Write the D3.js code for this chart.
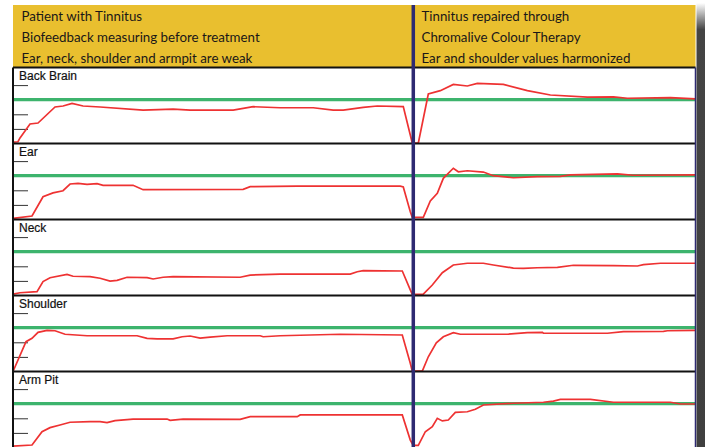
<!DOCTYPE html>
<html>
<head>
<meta charset="utf-8">
<script src="https://cdn.jsdelivr.net/npm/d3@7"></script>
<style>
body { margin: 0; background: #fff; }
svg { display: block; }
</style>
</head>
<body>
<svg width="705" height="447"></svg>
<script>
// header texts
var headerLeft = ["Patient with Tinnitus",
                  "Biofeedback measuring before treatment",
                  "Ear, neck, shoulder and armpit are weak"];
var headerRight = ["Tinnitus repaired through",
                   "Chromalive Colour Therapy",
                   "Ear and shoulder values harmonized"];

var panelNames = ["Back Brain", "Ear", "Neck", "Shoulder", "Arm Pit"];

// [time, value] readings, treatment applied at time 100
var backBrain = [[0,0.1],[1.25,0.12],[1.75,0.38],[4.25,1.34],[6.25,1.4],[10.5,2.5],[12.5,2.57],[14.75,2.74],
  [17.5,2.57],[21.75,2.5],[32.5,2.29],[40,2.36],[44.25,2.29],[55,2.29],[60,2.52],[66.75,2.45],[75,2.45],
  [80,2.29],[82.5,2.29],[87.5,2.48],[91,2.57],[97.5,2.53],[99.25,0.58],[99.75,0.03],[101.25,0.03],
  [103.75,3.39],[106.75,3.62],[110,4.05],[113.5,3.94],[116,4.12],[122.5,4.05],[128.5,3.62],[134.25,3.32],
  [143.5,3.18],[150,3.2],[153.5,3.1],[164.25,3.14],[170.5,3.05]];
var ear = [[0,0.08],[4.75,0.24],[7.5,1.56],[10,1.82],[12.5,1.97],[14.25,2.43],[16.25,2.48],[18.5,2.41],
  [21,2.45],[22.5,2.34],[30,2.34],[32.5,2.04],[57.5,2.07],[59.25,2.25],[71,2.29],[96.75,2.29],[97.5,2.23],
  [99.25,0.53],[99.75,0.15],[102.5,0.15],[104.25,1.27],[106,1.79],[107.5,2.82],[110,3.51],[111.25,3.27],
  [113.5,3.34],[117.5,3.25],[120,3.0],[125,2.86],[131,2.93],[136.75,2.96],[139.25,3.05],[151,3.12],
  [155,3.03],[170.5,3.05]];
var neck = [[0,0.1],[1.75,0.19],[6,0.26],[7.5,0.95],[9.25,1.22],[13.5,1.45],[15,1.32],[19.25,1.29],
  [21.75,1.18],[24.25,0.99],[26,1.04],[28.5,1.25],[33.5,1.22],[35,1.13],[37.5,1.25],[40,1.29],[56.75,1.25],
  [59.25,1.4],[66.75,1.47],[84.25,1.47],[86,1.63],[87.5,1.7],[97.25,1.68],[99.25,0.38],[99.75,0.08],
  [102.5,0.1],[104.75,0.72],[107.25,1.56],[110,2.09],[113.5,2.21],[117.5,2.21],[120,2.09],[125,1.88],
  [127.5,1.86],[131,1.9],[136,1.93],[140,2.07],[150,2.04],[156,2.02],[157.5,2.11],[161.75,2.21],[170.5,2.21]];
var shoulder = [[0,0],[3.25,2.04],[4.75,2.27],[6.25,2.68],[8.5,2.82],[10.5,2.79],[13,2.55],[18.5,2.45],
  [31,2.45],[33.5,2.27],[36,2.23],[40,2.23],[42.25,2.38],[44.25,2.43],[46.75,2.29],[49.25,2.36],[53.5,2.45],
  [61.75,2.45],[62.5,2.38],[66.75,2.45],[81.75,2.55],[97.25,2.5],[99.25,0.56],[99.75,0.03],[102.25,0.03],
  [103.75,1.01],[105.75,1.97],[107.5,2.38],[110,2.66],[111.75,2.55],[123.5,2.55],[128.5,2.66],[132.25,2.68],
  [132.5,2.62],[148.5,2.62],[152.5,2.73],[162.5,2.75],[163.5,2.79],[170.5,2.82]];
var armPit = [[0,0.1],[4.75,0.17],[7.25,1.08],[9.25,1.36],[11.75,1.54],[14.25,1.73],[19.25,1.77],
  [21.75,1.77],[23.5,1.7],[25.5,1.84],[30,1.95],[38.5,1.95],[39.25,1.86],[42.5,1.95],[56.75,1.93],
  [59.25,2.11],[71,2.11],[71.75,2.23],[97.25,2.23],[99.25,0.51],[100,0.14],[101.25,0.14],[103,1.08],
  [104.75,1.42],[106,2.0],[107.25,1.82],[108.75,1.88],[110.5,2.41],[113.5,2.45],[115.5,2.62],[117.5,2.91],
  [125,3.03],[132.5,3.1],[135,3.18],[136.75,3.3],[144.25,3.3],[150,3.1],[164.25,3.1],[166.75,2.98],
  [170.5,2.98]];

var series = [backBrain, ear, neck, shoulder, armPit];
var targetLevel = 3;
var tickValues = [1, 2, 3, 4];
var treatmentTime = 100;

var svg = d3.select("svg");
var left = 13, right = 695.5, headerTop = 5, panelTop = 67.5, panelH = 76;

var x = d3.scaleLinear().domain([0, 170.5]).range([left, right]);

// header
svg.append("rect")
    .attr("x", left).attr("y", headerTop)
    .attr("width", right - left).attr("height", panelTop - headerTop)
    .attr("fill", "#E9BF2F");

function headerText(lines, x0) {
    var t = svg.append("g").selectAll("text")
        .data(lines)
        .enter()
        .append("text")
        .attr("x", x0)
        .attr("y", function(d, i) { return 20.5 + i * 21; })
        .style("font-family", "Lato, 'Open Sans', sans-serif")
        .style("font-size", "14px")
        .attr("fill", "#1a1718")
        .text(function(d) { return d; });
    // squeeze a little to look like the narrower original face
    t.each(function() {
        var len = this.getComputedTextLength();
        d3.select(this).attr("textLength", len * 0.95).attr("lengthAdjust", "spacingAndGlyphs");
    });
}
headerText(headerLeft, 21.5);
headerText(headerRight, 421.5);

var line = d3.line()
    .x(function(d) { return x(d[0]); })
    .y(function(d) { return 0; });

series.forEach(function(data, i) {
    var top = panelTop + i * panelH;
    var y = d3.scaleLinear().domain([0, panelH / 14.6]).range([top + panelH, top]);
    var g = svg.append("g");

    var axis = d3.axisRight(y).tickValues(tickValues).tickSize(15).tickFormat("");
    g.append("g")
        .attr("transform", "translate(" + left + ",0)")
        .call(axis)
        .call(function(a) { a.select(".domain").remove(); })
        .selectAll("line").attr("stroke", "#333");

    g.append("line")
        .attr("x1", left).attr("x2", right)
        .attr("y1", y(targetLevel)).attr("y2", y(targetLevel))
        .attr("stroke", "#3DB46D").attr("stroke-width", 3.2);

    g.append("line")
        .attr("x1", left).attr("x2", right)
        .attr("y1", top).attr("y2", top)
        .attr("stroke", "#111").attr("stroke-width", 2.2);

    g.append("text")
        .attr("x", 19).attr("y", top + 12.5)
        .style("font-family", "'Liberation Sans', Arial, sans-serif")
        .style("font-size", "12px")
        .attr("fill", "#111")
        .attr("stroke", "#111").attr("stroke-width", 0.2)
        .text(panelNames[i]);

    g.append("path")
        .datum(data)
        .attr("d", line.y(function(d) { return y(d[1]); }))
        .attr("fill", "none")
        .attr("stroke", "#EE3232")
        .attr("stroke-width", 1.7);
});

// left border
svg.append("line")
    .attr("x1", left).attr("x2", left)
    .attr("y1", panelTop).attr("y2", 447)
    .attr("stroke", "#111").attr("stroke-width", 2);

// treatment divider
svg.append("line")
    .attr("x1", x(treatmentTime)).attr("x2", x(treatmentTime))
    .attr("y1", headerTop).attr("y2", 447)
    .attr("stroke", "#2E2A72").attr("stroke-width", 3.5);

// right border
svg.append("line")
    .attr("x1", right).attr("x2", right)
    .attr("y1", panelTop).attr("y2", 447)
    .attr("stroke", "#2E2A72").attr("stroke-width", 1.5);

// page shadow on the right
var grad = svg.append("defs").append("linearGradient")
    .attr("id", "shade").attr("x1", 0).attr("y1", 0).attr("x2", 0).attr("y2", 1);
grad.append("stop").attr("offset", "0").attr("stop-color", "#fff");
grad.append("stop").attr("offset", "0.06").attr("stop-color", "#444");
grad.append("stop").attr("offset", "1").attr("stop-color", "#3f3f3f");
svg.append("rect")
    .attr("x", right + 1).attr("y", 3)
    .attr("width", 705 - right).attr("height", 444)
    .attr("fill", "url(#shade)");
</script>
</body>
</html>
